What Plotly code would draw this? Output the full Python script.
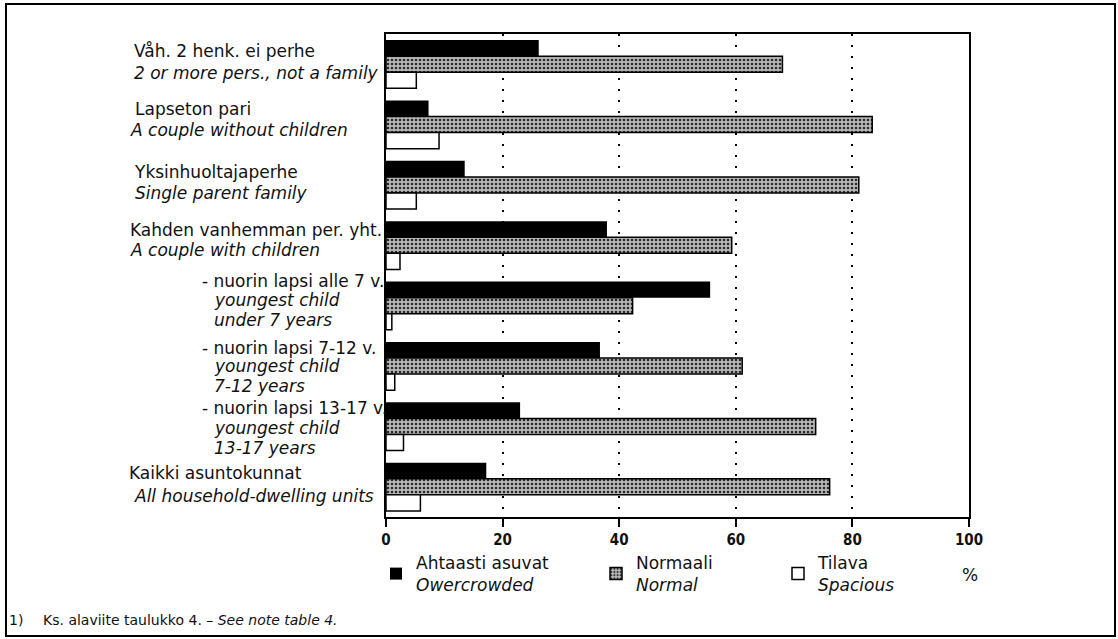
import plotly.graph_objects as go

# household types (Finnish label, English label lines)
categories = [
    "Våh. 2 henk. ei perhe",
    "Lapseton pari",
    "Yksinhuoltajaperhe",
    "Kahden vanhemman per. yht.",
    "- nuorin lapsi alle 7 v.",
    "- nuorin lapsi 7-12 v.",
    "- nuorin lapsi 13-17 v.",
    "Kaikki asuntokunnat",
]
english = [
    ["2 or more pers., not a family"],
    ["A couple without children"],
    ["Single parent family"],
    ["A couple with children"],
    ["youngest child", "under 7 years"],
    ["youngest child", "7-12 years"],
    ["youngest child", "13-17 years"],
    ["All household-dwelling units"],
]

# shares of households, %
overcrowded = [26.2, 7.3, 13.5, 37.9, 55.6, 36.7, 23.0, 17.2]
normal = [68.0, 83.4, 81.1, 59.3, 42.3, 61.1, 73.7, 76.1]
spacious = [5.2, 9.1, 5.2, 2.4, 1.0, 1.5, 3.0, 5.9]

series_names = [
    "Ahtaasti asuvat<br><i>Owercrowded</i>",
    "Normaali<br><i>Normal</i>",
    "Tilava<br><i>Spacious</i>",
]
x_ticks = [0, 20, 40, 60, 80, 100]

W, H = 1118, 639
# plot box in pixels
X0, X1, Y0, Y1 = 386, 969, 34, 517
FONT = "DejaVu Sans"


def px_x(px):
    return (px - X0) / (X1 - X0)


def px_y(py):
    return (Y1 - py) / (Y1 - Y0)


fig = go.Figure()
fig.add_trace(go.Bar(
    y=categories, x=overcrowded, orientation="h", name=series_names[0],
    marker=dict(color="black", line=dict(width=0)), legend="legend",
))
fig.add_trace(go.Bar(
    y=categories, x=normal, orientation="h", name=series_names[1],
    marker=dict(color="#9c9c9c", line=dict(color="black", width=1.5),
                pattern=dict(shape=".", fgcolor="#2a2a2a", bgcolor="#b8b8b8",
                             size=4, solidity=0.35, fillmode="replace")),
    legend="legend2",
))
fig.add_trace(go.Bar(
    y=categories, x=spacious, orientation="h", name=series_names[2],
    marker=dict(color="white", line=dict(color="black", width=1.5)),
    legend="legend3",
))

# category labels left of the plot
fi_x = [132, 133, 132, 128, 200, 200, 200, 127]
en_x = [132, 128, 133, 128, 212, 212, 212, 132]
fi_dy = [-13, -16, -13, -15, -25, -18, -18, -14]
en_dy = [9, 5, 8, 5, -6, 0, 2, 9]
line_step = 20

annotations = []
for i, cat in enumerate(categories):
    annotations.append(dict(
        x=px_x(fi_x[i]), xref="paper", y=cat, yref="y", xanchor="left",
        yanchor="middle", yshift=-fi_dy[i], text=cat, showarrow=False,
        font=dict(family=FONT, size=17, color="#111"),
    ))
    for j, line in enumerate(english[i]):
        annotations.append(dict(
            x=px_x(en_x[i]), xref="paper", y=cat, yref="y", xanchor="left",
            yanchor="middle", yshift=-(en_dy[i] + j * line_step),
            text=f"<i>{line}</i>", showarrow=False,
            font=dict(family=FONT, size=17, color="#111"),
        ))

annotations.append(dict(
    x=px_x(970), xref="paper", y=px_y(575), yref="paper", text="%",
    xanchor="center", yanchor="middle",
    showarrow=False, font=dict(family=FONT, size=17, color="#111"),
))
annotations.append(dict(
    x=px_x(7), xref="paper", y=px_y(620), yref="paper",
    xanchor="left", yanchor="middle",
    text="1)", showarrow=False, font=dict(family=FONT, size=14, color="#111"),
))
annotations.append(dict(
    x=px_x(41), xref="paper", y=px_y(620), yref="paper",
    xanchor="left", yanchor="middle",
    text="Ks. alaviite taulukko 4. – <i>See note table 4.</i>",
    showarrow=False, font=dict(family=FONT, size=14, color="#111"),
))

legend_style = dict(
    orientation="v", xanchor="left", yanchor="middle", y=px_y(574),
    bgcolor="rgba(0,0,0,0)", borderwidth=0, valign="middle",
    font=dict(family=FONT, size=17, color="#111"), tracegroupgap=0,
)

fig.update_layout(
    width=W, height=H,
    margin=dict(l=X0, r=W - X1, t=Y0, b=H - Y1),
    paper_bgcolor="white", plot_bgcolor="white",
    barmode="group", bargap=0.2, bargroupgap=0,
    showlegend=True,
    legend=dict(x=px_x(376), **legend_style),
    legend2=dict(x=px_x(596), **legend_style),
    legend3=dict(x=px_x(778), **legend_style),
    annotations=annotations,
    shapes=[dict(
        type="rect", xref="paper", yref="paper",
        x0=px_x(6), x1=px_x(1115), y0=px_y(636), y1=px_y(4),
        line=dict(color="black", width=2), layer="below",
    )],
)

fig.update_xaxes(
    range=[0, 100], tickvals=x_ticks, ticktext=[str(v) for v in x_ticks],
    showgrid=True, gridcolor="black", gridwidth=2, griddash="2px,9px",
    zeroline=False, showline=True, linecolor="black", linewidth=2, mirror=True,
    ticks="outside", ticklen=8, tickwidth=2, tickcolor="black",
    tickfont=dict(family="Liberation Sans Narrow, DejaVu Sans Condensed, sans-serif",
                  size=15, color="#111", weight="bold"),
)
fig.update_yaxes(
    autorange="reversed", showticklabels=False, showgrid=False,
    showline=True, linecolor="black", linewidth=2, mirror=True, ticks="",
)

# drop the page's default body margin so the figure sits at the window corner
fig.write_html(
    "out.html",
    config={"displayModeBar": False},
    post_script="document.body.style.margin = '0';",
)
